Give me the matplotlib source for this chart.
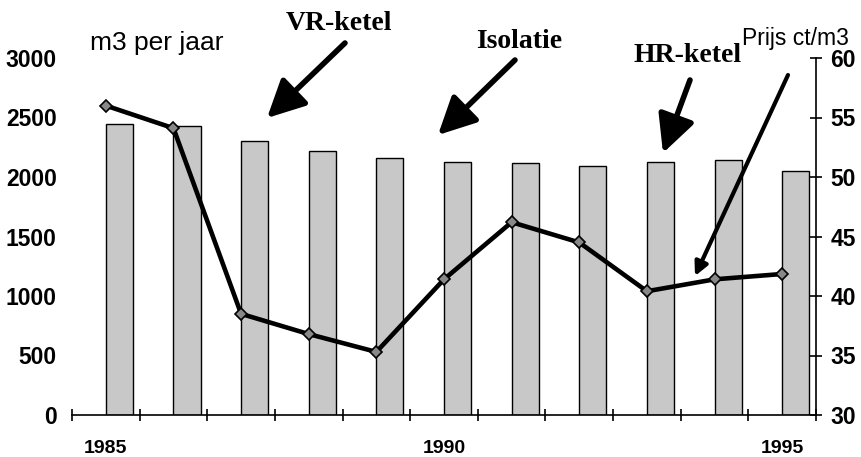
import matplotlib
matplotlib.use("Agg")
import matplotlib.pyplot as plt
import numpy as np

years = [1985, 1986, 1987, 1988, 1989, 1990, 1991, 1992, 1993, 1994, 1995]
usage_m3 = [2445, 2426, 2300, 2218, 2158, 2130, 2116, 2090, 2124, 2140, 2050]
price_ct = [56.0, 54.1, 38.5, 36.8, 35.3, 41.4, 46.2, 44.5, 40.4, 41.4, 41.85]
year_labels = ["1985", "", "", "", "", "1990", "", "", "", "", "1995"]
left_ticks = [0, 500, 1000, 1500, 2000, 2500, 3000]
right_ticks = [30, 35, 40, 45, 50, 55, 60]

W, H = 861, 457
fig = plt.figure(figsize=(W / 100, H / 100), dpi=100)
ax = fig.add_axes([72 / W, 1 - 415 / H, (816 - 72) / W, (415 - 58) / H])
ax2 = ax.twinx()

n = len(years)
centers = np.arange(n) + 0.5
ax.bar(centers, usage_m3, width=0.4, align="edge", color="#c8c8c8",
       edgecolor="black", linewidth=1.0, zorder=2)
ax.set_xlim(0, n)
ax.set_ylim(0, 3000)
ax.set_yticks(left_ticks)
ax.set_yticklabels([str(t) for t in left_ticks], fontfamily="Liberation Sans",
                   fontsize=16.5, fontweight="bold")
ax.tick_params(axis="y", length=0, pad=11)

ax.set_xticks(np.arange(n + 1))
ax.set_xticklabels([])
ax.tick_params(axis="x", which="major", direction="inout", length=9, width=1.2)
ax.set_xticks(centers, minor=True)
ax.set_xticklabels(year_labels, minor=True, fontfamily="Liberation Sans",
                   fontsize=14, fontweight="bold")
ax.tick_params(axis="x", which="minor", length=0, pad=18)

for s in ["top", "left", "right"]:
    ax.spines[s].set_visible(False)
ax.spines["bottom"].set_linewidth(1.2)

ax2.plot(centers, price_ct, color="black", linewidth=3.3, marker="D",
         markersize=6, markerfacecolor="#888888", markeredgecolor="black",
         markeredgewidth=1.2, zorder=5)
ax2.set_ylim(30, 60)
ax2.set_yticks(right_ticks)
ax2.set_yticklabels([str(t) for t in right_ticks], fontfamily="Liberation Sans",
                    fontsize=16.5, fontweight="bold")
ax2.tick_params(axis="y", direction="inout", length=9, width=1.2, pad=6)
for s in ["top", "left", "bottom"]:
    ax2.spines[s].set_visible(False)
ax2.spines["right"].set_linewidth(1.2)


def fp(x, y):
    return (x / W, 1 - y / H)


fig.text(*fp(90, 43), "m3 per jaar", fontfamily="Liberation Sans",
         fontsize=19, va="center", ha="left")
fig.text(*fp(742, 39), "Prijs ct/m3", fontfamily="Liberation Sans",
         fontsize=16.5, va="center", ha="left")
serif = dict(fontfamily="Liberation Serif", fontsize=20, fontweight="bold",
             va="center", ha="left")
fig.text(*fp(286, 23), "VR-ketel", **serif)
fig.text(*fp(476, 41), "Isolatie", **serif)
fig.text(*fp(634, 56), "HR-ketel", **serif)

arrow_big = dict(arrowstyle="-|>,head_length=0.6,head_width=0.3", color="black",
                 lw=4, mutation_scale=38, shrinkA=0, shrinkB=0)
arrow_small = dict(arrowstyle="-|>", color="black", lw=3, mutation_scale=20,
                   shrinkA=0, shrinkB=0)
for (x0, y0), (x1, y1), props in [
    ((345, 43), (267, 118), arrow_big),
    ((515, 60), (438, 135), arrow_big),
    ((690, 80), (663, 153), arrow_big),
    ((788, 75), (695, 276), arrow_small),
]:
    fig.add_artist(matplotlib.patches.FancyArrowPatch(
        fp(x0, y0), fp(x1, y1), transform=fig.transFigure, **props))

fig.savefig("out.png", dpi=100)
